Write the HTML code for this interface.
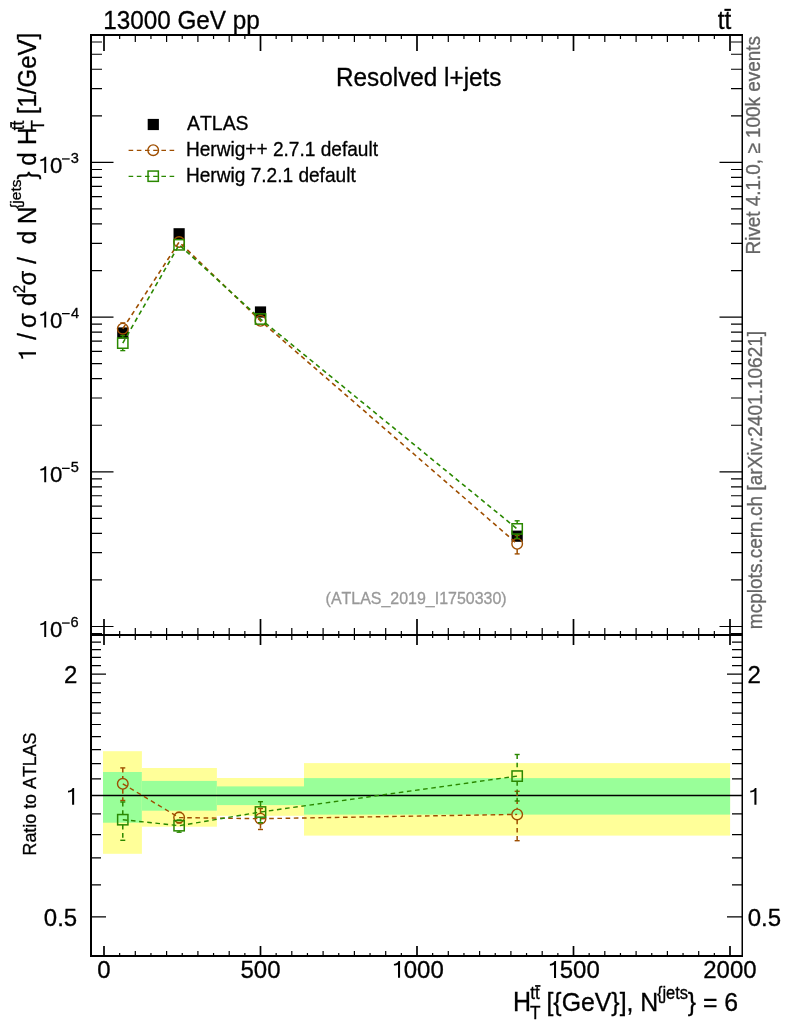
<!DOCTYPE html><html><head><meta charset="utf-8"><style>html,body{margin:0;padding:0;background:#fff;overflow:hidden}svg{display:block;will-change:transform}text{font-family:"Liberation Sans",sans-serif;font-kerning:none}</style></head><body>
<svg width="786" height="1024" viewBox="0 0 786 1024">
<rect width="786" height="1024" fill="#fff"/>
<rect x="103.00" y="751.2" width="38.90" height="102.60" fill="#ffff99"/>
<rect x="103.00" y="772" width="38.90" height="50.70" fill="#99ff99"/>
<rect x="141.90" y="768" width="75.00" height="58.70" fill="#ffff99"/>
<rect x="141.90" y="780.9" width="75.00" height="29.80" fill="#99ff99"/>
<rect x="216.90" y="778" width="87.10" height="37.80" fill="#ffff99"/>
<rect x="216.90" y="786.4" width="87.10" height="18.70" fill="#99ff99"/>
<rect x="304.00" y="763.1" width="426.10" height="72.50" fill="#ffff99"/>
<rect x="304.00" y="778.1" width="426.10" height="36.50" fill="#99ff99"/>
<line x1="91" y1="795.5" x2="742" y2="795.5" stroke="#000" stroke-width="1.4"/>
<path d="M119.65 35.00L119.65 39.00M119.65 635.00L119.65 631.00M119.65 635.00L119.65 638.00M119.65 956.00L119.65 953.00M135.30 35.00L135.30 42.00M135.30 635.00L135.30 628.00M135.30 635.00L135.30 640.00M135.30 956.00L135.30 951.00M150.95 35.00L150.95 39.00M150.95 635.00L150.95 631.00M150.95 635.00L150.95 638.00M150.95 956.00L150.95 953.00M166.60 35.00L166.60 42.00M166.60 635.00L166.60 628.00M166.60 635.00L166.60 640.00M166.60 956.00L166.60 951.00M182.25 35.00L182.25 39.00M182.25 635.00L182.25 631.00M182.25 635.00L182.25 638.00M182.25 956.00L182.25 953.00M197.90 35.00L197.90 42.00M197.90 635.00L197.90 628.00M197.90 635.00L197.90 640.00M197.90 956.00L197.90 951.00M213.55 35.00L213.55 39.00M213.55 635.00L213.55 631.00M213.55 635.00L213.55 638.00M213.55 956.00L213.55 953.00M229.20 35.00L229.20 42.00M229.20 635.00L229.20 628.00M229.20 635.00L229.20 640.00M229.20 956.00L229.20 951.00M244.85 35.00L244.85 39.00M244.85 635.00L244.85 631.00M244.85 635.00L244.85 638.00M244.85 956.00L244.85 953.00M276.15 35.00L276.15 39.00M276.15 635.00L276.15 631.00M276.15 635.00L276.15 638.00M276.15 956.00L276.15 953.00M291.80 35.00L291.80 42.00M291.80 635.00L291.80 628.00M291.80 635.00L291.80 640.00M291.80 956.00L291.80 951.00M307.45 35.00L307.45 39.00M307.45 635.00L307.45 631.00M307.45 635.00L307.45 638.00M307.45 956.00L307.45 953.00M323.10 35.00L323.10 42.00M323.10 635.00L323.10 628.00M323.10 635.00L323.10 640.00M323.10 956.00L323.10 951.00M338.75 35.00L338.75 39.00M338.75 635.00L338.75 631.00M338.75 635.00L338.75 638.00M338.75 956.00L338.75 953.00M354.40 35.00L354.40 42.00M354.40 635.00L354.40 628.00M354.40 635.00L354.40 640.00M354.40 956.00L354.40 951.00M370.05 35.00L370.05 39.00M370.05 635.00L370.05 631.00M370.05 635.00L370.05 638.00M370.05 956.00L370.05 953.00M385.70 35.00L385.70 42.00M385.70 635.00L385.70 628.00M385.70 635.00L385.70 640.00M385.70 956.00L385.70 951.00M401.35 35.00L401.35 39.00M401.35 635.00L401.35 631.00M401.35 635.00L401.35 638.00M401.35 956.00L401.35 953.00M432.65 35.00L432.65 39.00M432.65 635.00L432.65 631.00M432.65 635.00L432.65 638.00M432.65 956.00L432.65 953.00M448.30 35.00L448.30 42.00M448.30 635.00L448.30 628.00M448.30 635.00L448.30 640.00M448.30 956.00L448.30 951.00M463.95 35.00L463.95 39.00M463.95 635.00L463.95 631.00M463.95 635.00L463.95 638.00M463.95 956.00L463.95 953.00M479.60 35.00L479.60 42.00M479.60 635.00L479.60 628.00M479.60 635.00L479.60 640.00M479.60 956.00L479.60 951.00M495.25 35.00L495.25 39.00M495.25 635.00L495.25 631.00M495.25 635.00L495.25 638.00M495.25 956.00L495.25 953.00M510.90 35.00L510.90 42.00M510.90 635.00L510.90 628.00M510.90 635.00L510.90 640.00M510.90 956.00L510.90 951.00M526.55 35.00L526.55 39.00M526.55 635.00L526.55 631.00M526.55 635.00L526.55 638.00M526.55 956.00L526.55 953.00M542.20 35.00L542.20 42.00M542.20 635.00L542.20 628.00M542.20 635.00L542.20 640.00M542.20 956.00L542.20 951.00M557.85 35.00L557.85 39.00M557.85 635.00L557.85 631.00M557.85 635.00L557.85 638.00M557.85 956.00L557.85 953.00M589.15 35.00L589.15 39.00M589.15 635.00L589.15 631.00M589.15 635.00L589.15 638.00M589.15 956.00L589.15 953.00M604.80 35.00L604.80 42.00M604.80 635.00L604.80 628.00M604.80 635.00L604.80 640.00M604.80 956.00L604.80 951.00M620.45 35.00L620.45 39.00M620.45 635.00L620.45 631.00M620.45 635.00L620.45 638.00M620.45 956.00L620.45 953.00M636.10 35.00L636.10 42.00M636.10 635.00L636.10 628.00M636.10 635.00L636.10 640.00M636.10 956.00L636.10 951.00M651.75 35.00L651.75 39.00M651.75 635.00L651.75 631.00M651.75 635.00L651.75 638.00M651.75 956.00L651.75 953.00M667.40 35.00L667.40 42.00M667.40 635.00L667.40 628.00M667.40 635.00L667.40 640.00M667.40 956.00L667.40 951.00M683.05 35.00L683.05 39.00M683.05 635.00L683.05 631.00M683.05 635.00L683.05 638.00M683.05 956.00L683.05 953.00M698.70 35.00L698.70 42.00M698.70 635.00L698.70 628.00M698.70 635.00L698.70 640.00M698.70 956.00L698.70 951.00M714.35 35.00L714.35 39.00M714.35 635.00L714.35 631.00M714.35 635.00L714.35 638.00M714.35 956.00L714.35 953.00M91.00 633.58L102.00 633.58M742.00 633.58L731.00 633.58M91.00 626.50L113.50 626.50M742.00 626.50L719.50 626.50M91.00 579.93L102.00 579.93M742.00 579.93L731.00 579.93M91.00 552.69L102.00 552.69M742.00 552.69L731.00 552.69M91.00 533.36L102.00 533.36M742.00 533.36L731.00 533.36M91.00 518.37L102.00 518.37M742.00 518.37L731.00 518.37M91.00 506.12L102.00 506.12M742.00 506.12L731.00 506.12M91.00 495.76L102.00 495.76M742.00 495.76L731.00 495.76M91.00 486.79L102.00 486.79M742.00 486.79L731.00 486.79M91.00 478.88L102.00 478.88M742.00 478.88L731.00 478.88M91.00 471.80L113.50 471.80M742.00 471.80L719.50 471.80M91.00 425.23L102.00 425.23M742.00 425.23L731.00 425.23M91.00 397.99L102.00 397.99M742.00 397.99L731.00 397.99M91.00 378.66L102.00 378.66M742.00 378.66L731.00 378.66M91.00 363.67L102.00 363.67M742.00 363.67L731.00 363.67M91.00 351.42L102.00 351.42M742.00 351.42L731.00 351.42M91.00 341.06L102.00 341.06M742.00 341.06L731.00 341.06M91.00 332.09L102.00 332.09M742.00 332.09L731.00 332.09M91.00 324.18L102.00 324.18M742.00 324.18L731.00 324.18M91.00 317.10L113.50 317.10M742.00 317.10L719.50 317.10M91.00 270.53L102.00 270.53M742.00 270.53L731.00 270.53M91.00 243.29L102.00 243.29M742.00 243.29L731.00 243.29M91.00 223.96L102.00 223.96M742.00 223.96L731.00 223.96M91.00 208.97L102.00 208.97M742.00 208.97L731.00 208.97M91.00 196.72L102.00 196.72M742.00 196.72L731.00 196.72M91.00 186.36L102.00 186.36M742.00 186.36L731.00 186.36M91.00 177.39L102.00 177.39M742.00 177.39L731.00 177.39M91.00 169.48L102.00 169.48M742.00 169.48L731.00 169.48M91.00 162.40L113.50 162.40M742.00 162.40L719.50 162.40M91.00 115.83L102.00 115.83M742.00 115.83L731.00 115.83M91.00 88.59L102.00 88.59M742.00 88.59L731.00 88.59M91.00 69.26L102.00 69.26M742.00 69.26L731.00 69.26M91.00 54.27L102.00 54.27M742.00 54.27L731.00 54.27M91.00 42.02L102.00 42.02M742.00 42.02L731.00 42.02M91.00 955.99L101.00 955.99M742.00 955.99L732.00 955.99M91.00 916.91L106.00 916.91M742.00 916.91L727.00 916.91M91.00 884.97L101.00 884.97M742.00 884.97L732.00 884.97M91.00 857.97L101.00 857.97M742.00 857.97L732.00 857.97M91.00 834.58L101.00 834.58M742.00 834.58L732.00 834.58M91.00 813.95L101.00 813.95M742.00 813.95L732.00 813.95M91.00 795.50L106.00 795.50M742.00 795.50L727.00 795.50M91.00 778.81L101.00 778.81M742.00 778.81L732.00 778.81M91.00 763.57L101.00 763.57M742.00 763.57L732.00 763.57M91.00 749.55L101.00 749.55M742.00 749.55L732.00 749.55M91.00 736.57L101.00 736.57M742.00 736.57L732.00 736.57M91.00 724.48L101.00 724.48M742.00 724.48L732.00 724.48M91.00 713.18L101.00 713.18M742.00 713.18L732.00 713.18M91.00 702.56L101.00 702.56M742.00 702.56L732.00 702.56M91.00 692.55L101.00 692.55M742.00 692.55L732.00 692.55M91.00 683.08L101.00 683.08M742.00 683.08L732.00 683.08M91.00 674.09L106.00 674.09M742.00 674.09L727.00 674.09M91.00 665.55L101.00 665.55M742.00 665.55L732.00 665.55M91.00 657.40L101.00 657.40M742.00 657.40L732.00 657.40M91.00 649.62L101.00 649.62M742.00 649.62L732.00 649.62M91.00 642.16L101.00 642.16M742.00 642.16L732.00 642.16M91.00 635.01L101.00 635.01M742.00 635.01L732.00 635.01" stroke="#000" stroke-width="1.2" fill="none"/>
<path d="M104.00 35L104.00 51M104.00 619L104.00 645M104.00 956L104.00 946M260.50 35L260.50 51M260.50 619L260.50 645M260.50 956L260.50 946M417.00 35L417.00 51M417.00 619L417.00 645M417.00 956L417.00 946M573.50 35L573.50 51M573.50 619L573.50 645M573.50 956L573.50 946M730.00 35L730.00 51M730.00 619L730.00 645M730.00 956L730.00 946" stroke="#000" stroke-width="1.7" fill="none"/>
<path d="M91 34V957M90 35H743M90 635H743M90 956H743" stroke="#000" stroke-width="2" fill="none"/>
<path d="M742.25 34V957" stroke="#000" stroke-width="1.5" fill="none"/>
<rect x="117.18" y="327.40" width="11.2" height="11.2" fill="#000"/>
<rect x="173.52" y="228.20" width="11.2" height="11.2" fill="#000"/>
<rect x="254.90" y="306.40" width="11.2" height="11.2" fill="#000"/>
<rect x="511.56" y="530.60" width="11.2" height="11.2" fill="#000"/>
<polyline points="122.78,328.70 179.12,242.00 260.50,320.80 517.16,543.80" fill="none" stroke="#9e4e00" stroke-width="1.6" stroke-dasharray="4.6 3.6"/>
<line x1="122.78" y1="322.9" x2="122.78" y2="323.4" stroke="#9e4e00" stroke-width="1.5"/>
<line x1="120.28" y1="322.9" x2="125.28" y2="322.9" stroke="#9e4e00" stroke-width="1.4"/>
<circle cx="122.78" cy="328.70" r="5.3" fill="none" stroke="#9e4e00" stroke-width="1.4"/>
<circle cx="179.12" cy="242.00" r="5.3" fill="none" stroke="#9e4e00" stroke-width="1.4"/>
<circle cx="260.50" cy="320.80" r="5.3" fill="none" stroke="#9e4e00" stroke-width="1.4"/>
<line x1="517.16" y1="535.5" x2="517.16" y2="538.5" stroke="#9e4e00" stroke-width="1.5"/>
<line x1="514.66" y1="535.5" x2="519.66" y2="535.5" stroke="#9e4e00" stroke-width="1.4"/>
<line x1="517.16" y1="549.0999999999999" x2="517.16" y2="553.9" stroke="#9e4e00" stroke-width="1.5"/>
<line x1="514.66" y1="553.9" x2="519.66" y2="553.9" stroke="#9e4e00" stroke-width="1.4"/>
<circle cx="517.16" cy="543.80" r="5.3" fill="none" stroke="#9e4e00" stroke-width="1.4"/>
<polyline points="122.78,343.10 179.12,244.80 260.50,319.00 517.16,528.90" fill="none" stroke="#2a8800" stroke-width="1.6" stroke-dasharray="4.6 3.6"/>
<line x1="122.78" y1="335.6" x2="122.78" y2="337.95000000000005" stroke="#2a8800" stroke-width="1.5"/>
<line x1="120.28" y1="335.6" x2="125.28" y2="335.6" stroke="#2a8800" stroke-width="1.4"/>
<line x1="122.78" y1="348.25" x2="122.78" y2="350.6" stroke="#2a8800" stroke-width="1.5"/>
<line x1="120.28" y1="350.6" x2="125.28" y2="350.6" stroke="#2a8800" stroke-width="1.4"/>
<rect x="117.63" y="337.95" width="10.3" height="10.3" fill="none" stroke="#2a8800" stroke-width="1.5"/>
<rect x="173.97" y="239.65" width="10.3" height="10.3" fill="none" stroke="#2a8800" stroke-width="1.5"/>
<rect x="255.35" y="313.85" width="10.3" height="10.3" fill="none" stroke="#2a8800" stroke-width="1.5"/>
<line x1="517.16" y1="520.8" x2="517.16" y2="523.75" stroke="#2a8800" stroke-width="1.5"/>
<line x1="514.66" y1="520.8" x2="519.66" y2="520.8" stroke="#2a8800" stroke-width="1.4"/>
<line x1="517.16" y1="534.05" x2="517.16" y2="538.4" stroke="#2a8800" stroke-width="1.5"/>
<line x1="514.66" y1="538.4" x2="519.66" y2="538.4" stroke="#2a8800" stroke-width="1.4"/>
<rect x="512.01" y="523.75" width="10.3" height="10.3" fill="none" stroke="#2a8800" stroke-width="1.5"/>
<polyline points="122.78,783.80 179.12,817.60 260.50,818.70 517.16,814.40" fill="none" stroke="#9e4e00" stroke-width="1.4" stroke-dasharray="4.6 3.6"/>
<line x1="122.78" y1="767.9" x2="122.78" y2="778.5" stroke="#9e4e00" stroke-width="1.5" stroke-dasharray="4.6 3.6"/>
<line x1="122.78" y1="789.0999999999999" x2="122.78" y2="800.5" stroke="#9e4e00" stroke-width="1.5" stroke-dasharray="4.6 3.6"/>
<line x1="120.28" y1="767.9" x2="125.28" y2="767.9" stroke="#9e4e00" stroke-width="1.4"/>
<line x1="120.28" y1="800.5" x2="125.28" y2="800.5" stroke="#9e4e00" stroke-width="1.4"/>
<circle cx="122.78" cy="783.80" r="5.3" fill="none" stroke="#9e4e00" stroke-width="1.4"/>
<line x1="179.12" y1="812.4" x2="179.12" y2="812.3000000000001" stroke="#9e4e00" stroke-width="1.5" stroke-dasharray="4.6 3.6"/>
<line x1="179.12" y1="822.9" x2="179.12" y2="823" stroke="#9e4e00" stroke-width="1.5" stroke-dasharray="4.6 3.6"/>
<line x1="176.62" y1="812.4" x2="181.62" y2="812.4" stroke="#9e4e00" stroke-width="1.4"/>
<line x1="176.62" y1="823" x2="181.62" y2="823" stroke="#9e4e00" stroke-width="1.4"/>
<circle cx="179.12" cy="817.60" r="5.3" fill="none" stroke="#9e4e00" stroke-width="1.4"/>
<line x1="260.50" y1="808.5" x2="260.50" y2="813.4000000000001" stroke="#9e4e00" stroke-width="1.5" stroke-dasharray="4.6 3.6"/>
<line x1="260.50" y1="824.0" x2="260.50" y2="829.5" stroke="#9e4e00" stroke-width="1.5" stroke-dasharray="4.6 3.6"/>
<line x1="258.00" y1="808.5" x2="263.00" y2="808.5" stroke="#9e4e00" stroke-width="1.4"/>
<line x1="258.00" y1="829.5" x2="263.00" y2="829.5" stroke="#9e4e00" stroke-width="1.4"/>
<circle cx="260.50" cy="818.70" r="5.3" fill="none" stroke="#9e4e00" stroke-width="1.4"/>
<line x1="517.16" y1="791.3" x2="517.16" y2="809.1" stroke="#9e4e00" stroke-width="1.5" stroke-dasharray="4.6 3.6"/>
<line x1="517.16" y1="819.6999999999999" x2="517.16" y2="840.7" stroke="#9e4e00" stroke-width="1.5" stroke-dasharray="4.6 3.6"/>
<line x1="514.66" y1="791.3" x2="519.66" y2="791.3" stroke="#9e4e00" stroke-width="1.4"/>
<line x1="514.66" y1="840.7" x2="519.66" y2="840.7" stroke="#9e4e00" stroke-width="1.4"/>
<circle cx="517.16" cy="814.40" r="5.3" fill="none" stroke="#9e4e00" stroke-width="1.4"/>
<polyline points="122.78,819.70 179.12,825.70 260.50,812.00 517.16,776.10" fill="none" stroke="#2a8800" stroke-width="1.4" stroke-dasharray="4.6 3.6"/>
<line x1="122.78" y1="802" x2="122.78" y2="814.5500000000001" stroke="#2a8800" stroke-width="1.5" stroke-dasharray="4.6 3.6"/>
<line x1="122.78" y1="824.85" x2="122.78" y2="840.3" stroke="#2a8800" stroke-width="1.5" stroke-dasharray="4.6 3.6"/>
<line x1="120.28" y1="802" x2="125.28" y2="802" stroke="#2a8800" stroke-width="1.4"/>
<line x1="120.28" y1="840.3" x2="125.28" y2="840.3" stroke="#2a8800" stroke-width="1.4"/>
<rect x="117.63" y="814.55" width="10.3" height="10.3" fill="none" stroke="#2a8800" stroke-width="1.5"/>
<line x1="179.12" y1="820" x2="179.12" y2="820.5500000000001" stroke="#2a8800" stroke-width="1.5" stroke-dasharray="4.6 3.6"/>
<line x1="179.12" y1="830.85" x2="179.12" y2="832.2" stroke="#2a8800" stroke-width="1.5" stroke-dasharray="4.6 3.6"/>
<line x1="176.62" y1="820" x2="181.62" y2="820" stroke="#2a8800" stroke-width="1.4"/>
<line x1="176.62" y1="832.2" x2="181.62" y2="832.2" stroke="#2a8800" stroke-width="1.4"/>
<rect x="173.97" y="820.55" width="10.3" height="10.3" fill="none" stroke="#2a8800" stroke-width="1.5"/>
<line x1="260.50" y1="801.7" x2="260.50" y2="806.85" stroke="#2a8800" stroke-width="1.5" stroke-dasharray="4.6 3.6"/>
<line x1="260.50" y1="817.15" x2="260.50" y2="822.7" stroke="#2a8800" stroke-width="1.5" stroke-dasharray="4.6 3.6"/>
<line x1="258.00" y1="801.7" x2="263.00" y2="801.7" stroke="#2a8800" stroke-width="1.4"/>
<line x1="258.00" y1="822.7" x2="263.00" y2="822.7" stroke="#2a8800" stroke-width="1.4"/>
<rect x="255.35" y="806.85" width="10.3" height="10.3" fill="none" stroke="#2a8800" stroke-width="1.5"/>
<line x1="517.16" y1="754.5" x2="517.16" y2="770.95" stroke="#2a8800" stroke-width="1.5" stroke-dasharray="4.6 3.6"/>
<line x1="517.16" y1="781.25" x2="517.16" y2="801" stroke="#2a8800" stroke-width="1.5" stroke-dasharray="4.6 3.6"/>
<line x1="514.66" y1="754.5" x2="519.66" y2="754.5" stroke="#2a8800" stroke-width="1.4"/>
<line x1="514.66" y1="801" x2="519.66" y2="801" stroke="#2a8800" stroke-width="1.4"/>
<rect x="512.01" y="770.95" width="10.3" height="10.3" fill="none" stroke="#2a8800" stroke-width="1.5"/>
<rect x="147.70000000000002" y="118.9" width="11.2" height="11.2" fill="#000"/>
<line x1="128.6" y1="150.4" x2="176" y2="150.4" stroke="#9e4e00" stroke-width="1.4" stroke-dasharray="4.6 3.6"/>
<circle cx="153.2" cy="150.2" r="5.3" fill="none" stroke="#9e4e00" stroke-width="1.4"/>
<line x1="128.6" y1="176.4" x2="176" y2="176.4" stroke="#2a8800" stroke-width="1.4" stroke-dasharray="4.6 3.6"/>
<rect x="148.04999999999998" y="171.04999999999998" width="10.3" height="10.3" fill="none" stroke="#2a8800" stroke-width="1.5"/>
<text transform="translate(187.10,129.90) scale(1,1.07)" x="-0.04" y="0" font-size="19.4" stroke="#000" stroke-width="0.3">ATLAS</text>
<text transform="translate(187.50,155.80) scale(1,1.07)" x="-1.57" y="0" font-size="19.1" stroke="#000" stroke-width="0.3">Herwig++ 2.7.1 default</text>
<text transform="translate(187.50,181.70) scale(1,1.07)" x="-1.57" y="0" font-size="19.1" stroke="#000" stroke-width="0.3">Herwig 7.2.1 default</text>
<text transform="translate(105.00,29.10) scale(1,1.07)" x="-1.85" y="0" font-size="24.3" stroke="#000" stroke-width="0.3">13000 GeV pp</text>
<text transform="translate(338.00,86.00) scale(1,1.07)" x="-1.99" y="0" font-size="24.3" stroke="#000" stroke-width="0.3">Resolved l+jets</text>
<text transform="translate(718.10,29.20) scale(1,1.06)" x="-0.36" y="0" font-size="24.3" stroke="#000" stroke-width="0.3">tt</text>
<rect x="724.4" y="8.8" width="6.5" height="2.1" fill="#000"/>
<path d="M44.23 172.90L46.19 172.90L46.19 156.80L44.68 156.80C44.32 158.09 43.04 159.22 40.30 159.54L40.30 161.15C42.23 161.07 43.52 160.66 44.23 160.02Z" fill="#000"/>
<text transform="translate(50.83,172.90) scale(1,1.02)" x="-0.87" y="0" font-size="22.2" stroke="#000" stroke-width="0.3">0</text>
<rect x="62" y="158.30" width="7.7" height="1.3" fill="#000"/>
<text transform="translate(71.20,162.90) scale(1,1.04)" x="-0.55" y="0" font-size="14.6" stroke="#000" stroke-width="0.3">3</text>
<path d="M44.23 327.60L46.19 327.60L46.19 311.50L44.68 311.50C44.32 312.79 43.04 313.92 40.30 314.24L40.30 315.85C42.23 315.77 43.52 315.36 44.23 314.72Z" fill="#000"/>
<text transform="translate(50.83,327.60) scale(1,1.02)" x="-0.87" y="0" font-size="22.2" stroke="#000" stroke-width="0.3">0</text>
<rect x="62" y="313.00" width="7.7" height="1.3" fill="#000"/>
<text transform="translate(71.20,317.60) scale(1,1.04)" x="-0.32" y="0" font-size="14.6" stroke="#000" stroke-width="0.3">4</text>
<path d="M44.23 482.30L46.19 482.30L46.19 466.20L44.68 466.20C44.32 467.49 43.04 468.61 40.30 468.94L40.30 470.55C42.23 470.47 43.52 470.06 44.23 469.42Z" fill="#000"/>
<text transform="translate(50.83,482.30) scale(1,1.02)" x="-0.87" y="0" font-size="22.2" stroke="#000" stroke-width="0.3">0</text>
<rect x="62" y="467.70" width="7.7" height="1.3" fill="#000"/>
<text transform="translate(71.20,472.30) scale(1,1.04)" x="-0.58" y="0" font-size="14.6" stroke="#000" stroke-width="0.3">5</text>
<path d="M44.23 637.00L46.19 637.00L46.19 620.90L44.68 620.90C44.32 622.19 43.04 623.32 40.30 623.64L40.30 625.25C42.23 625.17 43.52 624.76 44.23 624.12Z" fill="#000"/>
<text transform="translate(50.83,637.00) scale(1,1.02)" x="-0.87" y="0" font-size="22.2" stroke="#000" stroke-width="0.3">0</text>
<rect x="62" y="622.40" width="7.7" height="1.3" fill="#000"/>
<text transform="translate(71.20,627.00) scale(1,1.04)" x="-0.73" y="0" font-size="14.6" stroke="#000" stroke-width="0.3">6</text>
<text transform="translate(65.26,683.09) scale(1,1.03)" x="-1.20" y="0" font-size="24" stroke="#000" stroke-width="0.3">2</text>
<text transform="translate(748.70,683.09) scale(1,1.03)" x="-1.20" y="0" font-size="24" stroke="#000" stroke-width="0.3">2</text>
<text transform="translate(44.76,925.91) scale(1,1.03)" x="-0.94" y="0" font-size="24" stroke="#000" stroke-width="0.3">0.5</text>
<text transform="translate(748.70,925.91) scale(1,1.03)" x="-0.94" y="0" font-size="24" stroke="#000" stroke-width="0.3">0.5</text>
<path d="M72.10 804.80L74.15 804.80L74.15 788.00L72.57 788.00C72.20 789.34 70.86 790.52 68.00 790.86L68.00 792.54C70.02 792.45 71.36 792.03 72.10 791.36Z" fill="#000"/>
<path d="M754.40 804.80L756.45 804.80L756.45 788.00L754.87 788.00C754.50 789.34 753.16 790.52 750.30 790.86L750.30 792.54C752.32 792.45 753.66 792.03 754.40 791.36Z" fill="#000"/>
<text transform="translate(98.25,978.40) scale(1,1.03)" x="-0.94" y="0" font-size="24" stroke="#000" stroke-width="0.3">0</text>
<text transform="translate(241.42,978.40) scale(1,1.03)" x="-0.96" y="0" font-size="24" stroke="#000" stroke-width="0.3">500</text>
<text transform="translate(704.37,978.40) scale(1,1.03)" x="-1.20" y="0" font-size="24" stroke="#000" stroke-width="0.3">2000</text>
<path d="M398.00 977.85L400.05 977.85L400.05 961.05L398.47 961.05C398.10 962.39 396.76 963.57 393.90 963.91L393.90 965.59C395.92 965.50 397.26 965.08 398.00 964.41Z" fill="#000"/>
<text transform="translate(404.71,978.40) scale(1,1.03)" x="-0.94" y="0" font-size="24" stroke="#000" stroke-width="0.3">000</text>
<path d="M554.00 977.90L556.05 977.90L556.05 961.10L554.47 961.10C554.10 962.44 552.76 963.62 549.90 963.96L549.90 965.64C551.92 965.55 553.26 965.13 554.00 964.46Z" fill="#000"/>
<text transform="translate(560.72,978.40) scale(1,1.03)" x="-0.96" y="0" font-size="24" stroke="#000" stroke-width="0.3">500</text>
<text transform="translate(515.10,1010.90) scale(1,1.07)" x="-2.05" y="0" font-size="25" stroke="#000" stroke-width="0.3">H</text>
<text transform="translate(530.40,999.30) scale(1,1.07)" x="-0.26" y="0" font-size="17.2" stroke="#000" stroke-width="0.3">tt</text>
<rect x="535.1" y="985.1" width="5.4" height="1.7" fill="#000"/>
<text transform="translate(530.40,1018.80) scale(1,1.07)" x="-0.38" y="0" font-size="17.2" stroke="#000" stroke-width="0.3">T</text>
<text transform="translate(548.20,1010.60) scale(1,1.07)" x="-1.76" y="0" font-size="24.85" stroke="#000" stroke-width="0.3">[{GeV}], N</text>
<text transform="translate(657.20,999.40) scale(1,1.07)" x="-0.26" y="0" font-size="16.5" stroke="#000" stroke-width="0.3">{jets</text>
<text transform="translate(688.20,1011.00) scale(1,1.07)" x="-0.40" y="0" font-size="24.8" stroke="#000" stroke-width="0.3">} = 6</text>
<g transform="translate(36.0,358.7) rotate(-90)">
<path d="M4.25 0.00L6.37 0.00L6.37 -17.40L4.73 -17.40C4.35 -16.01 2.96 -14.79 0.00 -14.44L0.00 -12.70C2.09 -12.79 3.48 -13.22 4.25 -13.92Z" fill="#000"/>
</g>
<text transform="translate(36.00,339.70) rotate(-90) scale(1,1.07)" x="-0.00" y="0" font-size="24" stroke="#000" stroke-width="0.3">/</text>
<text transform="translate(36.00,327.00) rotate(-90) scale(1,1.07)" x="-1.01" y="0" font-size="24" stroke="#000" stroke-width="0.3">σ</text>
<text transform="translate(36.00,305.00) rotate(-90) scale(1,1.07)" x="-1.01" y="0" font-size="24" stroke="#000" stroke-width="0.3">d</text>
<text transform="translate(24.50,292.60) rotate(-90) scale(1,1.07)" x="-0.75" y="0" font-size="15" stroke="#000" stroke-width="0.3">2</text>
<text transform="translate(36.00,284.50) rotate(-90) scale(1,1.07)" x="-1.01" y="0" font-size="24" stroke="#000" stroke-width="0.3">σ</text>
<text transform="translate(36.00,263.70) rotate(-90) scale(1,1.07)" x="-0.00" y="0" font-size="24" stroke="#000" stroke-width="0.3">/</text>
<text transform="translate(36.00,243.30) rotate(-90) scale(1,1.07)" x="-1.01" y="0" font-size="24" stroke="#000" stroke-width="0.3">d</text>
<text transform="translate(36.00,222.00) rotate(-90) scale(1,1.07)" x="-1.97" y="0" font-size="24" stroke="#000" stroke-width="0.3">N</text>
<text transform="translate(21.40,208.60) rotate(-90) scale(1,1.0)" x="-0.25" y="0" font-size="15.5" stroke="#000" stroke-width="0.3">{jets</text>
<text transform="translate(36.00,179.00) rotate(-90) scale(1,1.07)" x="-0.38" y="0" font-size="24" stroke="#000" stroke-width="0.3">}</text>
<text transform="translate(36.00,164.80) rotate(-90) scale(1,1.07)" x="-1.01" y="0" font-size="24" stroke="#000" stroke-width="0.3">d</text>
<text transform="translate(36.00,143.00) rotate(-90) scale(1,1.07)" x="-1.97" y="0" font-size="24" stroke="#000" stroke-width="0.3">H</text>
<text transform="translate(43.90,130.00) rotate(-90) scale(1,1.07)" x="-0.38" y="0" font-size="17.2" stroke="#000" stroke-width="0.3">T</text>
<text transform="translate(23.90,130.00) rotate(-90) scale(1,1.07)" x="-0.26" y="0" font-size="17.2" stroke="#000" stroke-width="0.3">tt</text>
<rect x="10.2" y="122" width="1.7" height="5.5" fill="#000"/>
<text transform="translate(36.00,112.50) rotate(-90) scale(1,1.07)" x="-1.70" y="0" font-size="24" stroke="#000" stroke-width="0.3">[1/GeV]</text>
<text transform="translate(760.20,252.90) rotate(-90) scale(1,1.065)" x="-1.55" y="0" font-size="18.9" fill="#666666" stroke="#666666" stroke-width="0.3">Rivet 4.1.0, ≥ 100k events</text>
<text transform="translate(762.00,627.90) rotate(-90) scale(1,1.065)" x="-1.26" y="0" font-size="19.05" fill="#666666" stroke="#666666" stroke-width="0.3">mcplots.cern.ch [arXiv:2401.10621]</text>
<text transform="translate(326.60,604.00) scale(1,1.05)" x="-0.99" y="0" font-size="15.97" fill="#999999" stroke="#999999" stroke-width="0.3">(ATLAS_2019_I1750330)</text>
<text transform="translate(36.10,854.00) rotate(-90) scale(1,1.066)" x="-1.46" y="0" font-size="17.86" stroke="#000" stroke-width="0.3">Ratio to ATLAS</text>
</svg></body></html>
